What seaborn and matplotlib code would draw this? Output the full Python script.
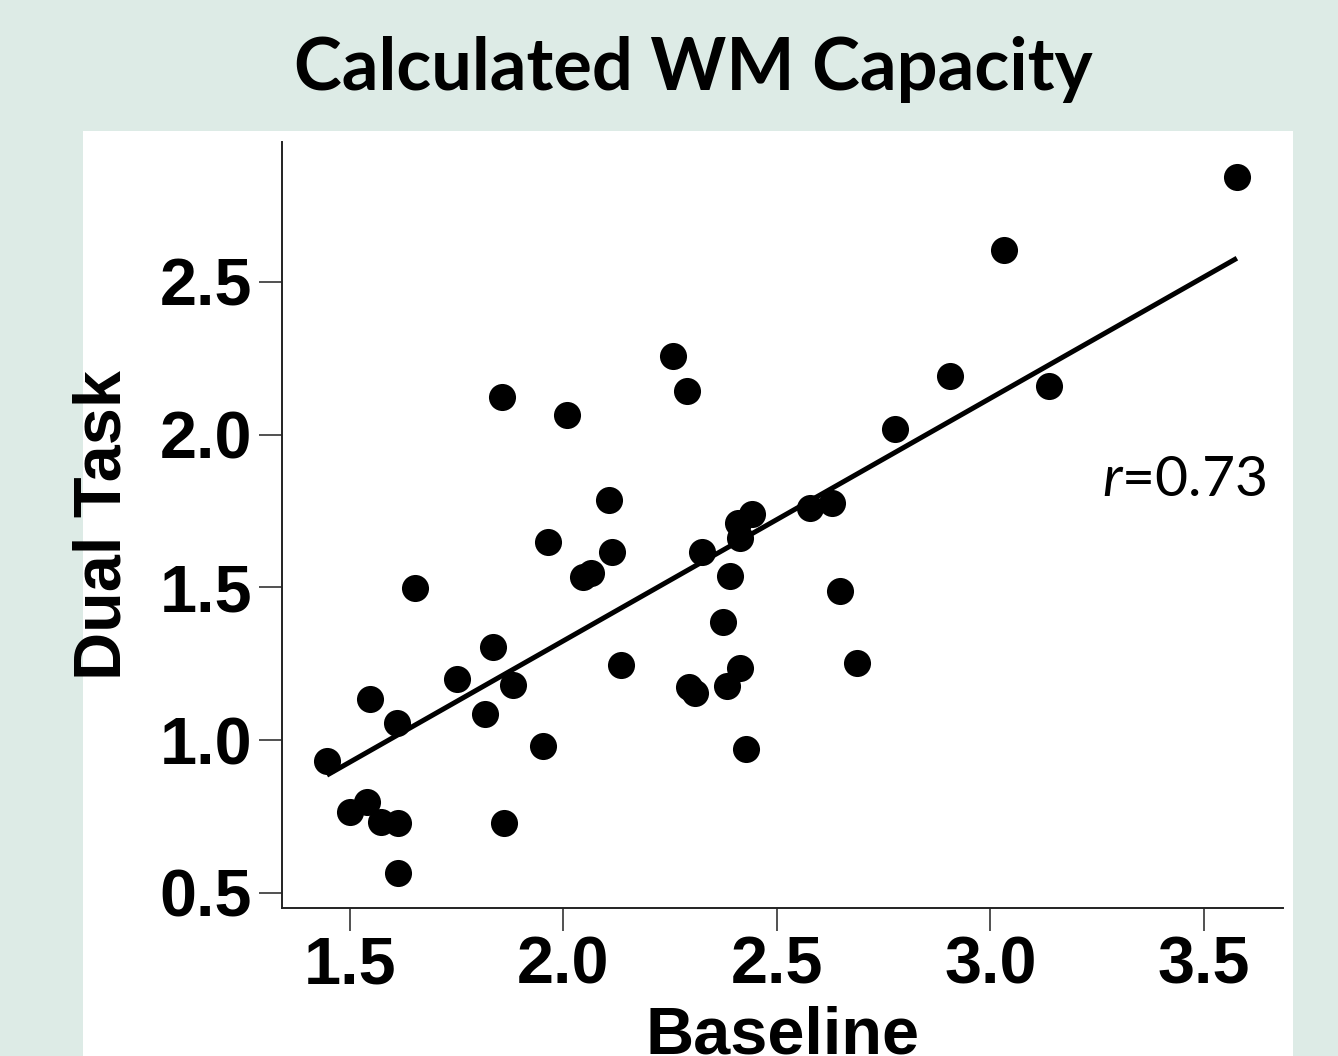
import numpy as np
import pandas as pd
import matplotlib
matplotlib.use("Agg")
import matplotlib.pyplot as plt
import seaborn as sns

# values
baseline = [1.446, 1.500, 1.540, 1.573, 1.612, 1.612, 1.547, 1.610, 1.652, 1.751,
            1.816, 1.835, 1.882, 1.861, 1.856, 1.952, 1.964, 2.008, 2.046, 2.064,
            2.107, 2.114, 2.135, 2.256, 2.289, 2.294, 2.308, 2.324, 2.374, 2.390,
            2.383, 2.413, 2.427, 2.413, 2.409, 2.441, 2.577, 2.629, 2.648, 2.687,
            2.776, 2.905, 3.032, 3.137, 3.577]
dual_task = [0.932, 0.765, 0.798, 0.732, 0.729, 0.565, 1.135, 1.056, 1.498, 1.200,
             1.086, 1.305, 1.181, 0.729, 2.124, 0.981, 1.649, 2.065, 1.534, 1.547,
             1.786, 1.616, 1.246, 2.258, 2.143, 1.174, 1.155, 1.616, 1.387, 1.538,
             1.178, 1.237, 0.971, 1.662, 1.711, 1.741, 1.760, 1.777, 1.489, 1.253,
             2.019, 2.192, 2.605, 2.160, 2.844]
x_ticks = [1.5, 2.0, 2.5, 3.0, 3.5]
y_ticks = [0.5, 1.0, 1.5, 2.0, 2.5]

data = pd.DataFrame({"Baseline": baseline, "Dual Task": dual_task})

sns.set_style("ticks")
plt.rcParams["font.family"] = ["Liberation Sans", "DejaVu Sans"]
plt.rcParams["mathtext.fontset"] = "custom"
plt.rcParams["mathtext.it"] = "Lato:italic"
plt.rcParams["mathtext.rm"] = "Lato"
for key in ["text.color", "axes.labelcolor", "xtick.color", "ytick.color"]:
    plt.rcParams[key] = "black"

bg = "#DDEBE6"
fig = plt.figure(figsize=(13.38, 10.56), dpi=100, facecolor=bg)
# white panel behind the plot
panel = plt.Rectangle((83 / 1338, 0), 1210 / 1338, 925 / 1056,
                      transform=fig.transFigure, facecolor="white",
                      edgecolor="none", zorder=-10)
fig.patches.append(panel)

ax = fig.add_axes([0.2108, 0.1402, 0.7481, 0.7254])
ax.set_facecolor("none")

sns.regplot(x="Baseline", y="Dual Task", data=data, ci=None, ax=ax, color="black",
            scatter_kws={"s": 380, "alpha": 1, "linewidths": 0},
            line_kws={"lw": 3.6, "solid_capstyle": "butt"})

ax.set_xlim(1.341, 3.685)
ax.set_ylim(0.451, 2.958)
ax.set_xticks(x_ticks)
ax.set_xticklabels([f"{v:.1f}" for v in x_ticks])
ax.set_yticks(y_ticks)
ax.set_yticklabels([f"{v:.1f}" for v in y_ticks])

for side in ["top", "right"]:
    ax.spines[side].set_visible(False)
for side in ["left", "bottom"]:
    ax.spines[side].set_color("#222222")
    ax.spines[side].set_linewidth(1.4)

ax.tick_params(axis="both", length=16.5, width=1.1, color="#222222",
               labelsize=48)
ax.tick_params(axis="x", pad=3)
ax.tick_params(axis="y", pad=5)
for lab in ax.get_xticklabels() + ax.get_yticklabels():
    lab.set_fontweight("bold")

ax.set_xlabel("Baseline", fontsize=48, fontweight="bold", labelpad=6)
ax.set_ylabel("Dual Task", fontsize=48, fontweight="bold", labelpad=18)

fig.text(0.518, 0.9148, "Calculated WM Capacity", family=["Lato", "DejaVu Sans"],
         fontweight="bold", fontsize=52, ha="center", va="baseline")
fig.text(0.8236, 0.5303, "$r$=0.73", family=["Lato", "DejaVu Sans"],
         fontsize=41, ha="left", va="baseline")

fig.savefig("out.png", dpi=100, facecolor=bg)
